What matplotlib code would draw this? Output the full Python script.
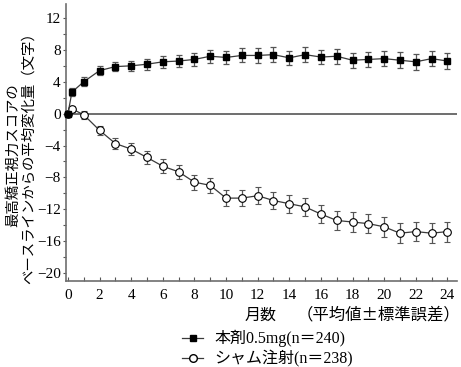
import numpy as np
import matplotlib
matplotlib.use("Agg")
import matplotlib.pyplot as plt
from matplotlib.lines import Line2D

plt.rcParams['font.family'] = ['Liberation Serif', 'Noto Sans CJK JP']

# months (0.25 = week 1)
months = [0, 0.25] + list(range(1, 25))

drug_mean = [0.0, 2.7, 4.0, 5.4, 5.9, 6.0, 6.2, 6.5, 6.6, 6.8, 7.2, 7.05,
             7.3, 7.3, 7.4, 7.0, 7.4, 7.1, 7.2, 6.7, 6.8, 6.9, 6.7, 6.5, 6.9, 6.6]
drug_se = [0.0, 0.5, 0.55, 0.58, 0.6, 0.65, 0.7, 0.72, 0.75, 0.78, 0.8, 0.82,
           0.88, 0.9, 0.9, 0.9, 0.92, 0.92, 0.93, 0.95, 0.95, 0.96, 0.97, 0.98, 0.98, 1.0]

sham_mean = [0.0, 0.6, -0.15, -2.1, -3.75, -4.45, -5.5, -6.6, -7.3, -8.6, -9.0, -10.6,
             -10.6, -10.3, -10.9, -11.3, -11.7, -12.6, -13.4, -13.6, -13.8, -14.2,
             -15.0, -14.8, -15.0, -14.8]
sham_se = [0.0, 0.4, 0.5, 0.6, 0.73, 0.78, 0.82, 0.85, 0.88, 0.92, 0.95, 1.0,
           1.05, 1.1, 1.1, 1.12, 1.15, 1.15, 1.18, 1.2, 1.2, 1.22, 1.22, 1.24, 1.25, 1.25]

drug_label = "本剤0.5mg(n＝240)"
sham_label = "シャム注射(n＝238)"

fig = plt.figure(figsize=(4.61, 3.67), dpi=100)
ax = fig.add_axes([0.1440, 0.2343, 0.8470, 0.7547])

ax.axhline(0, color="#6e6e6e", lw=1.4, zorder=1)

ax.errorbar(months, sham_mean, yerr=sham_se, color="#3a3a3a", lw=0.9,
            ecolor="#555555", elinewidth=0.9, capsize=2.2, capthick=0.9,
            marker="o", ms=5.5, mfc="white", mec="black", mew=0.8,
            zorder=3, clip_on=False)
ax.errorbar(months, drug_mean, yerr=drug_se, color="#3a3a3a", lw=0.9,
            ecolor="#555555", elinewidth=0.9, capsize=2.2, capthick=0.9,
            marker="s", ms=5, mfc="black", mec="black",
            zorder=4, clip_on=False)

ax.set_xlim(-0.1, 24.6)
ax.set_ylim(-21, 13.75)
ax.set_xticks(range(0, 25, 2))
ax.set_xticks(range(0, 25), minor=True)
ax.set_yticks(range(-20, 13, 4))
ax.set_yticks(range(-20, 13, 2), minor=True)
ax.tick_params(axis="x", which="both", direction="in", length=3, width=0.8,
               color="#555555", labelsize=11, pad=6)
ax.tick_params(axis="y", which="both", direction="out", length=2.5, width=0.8,
               color="#555555", labelsize=11, pad=1.5)

for s in ["top", "right"]:
    ax.spines[s].set_visible(False)
for s in ["left", "bottom"]:
    ax.spines[s].set_color("#6e6e6e")
    ax.spines[s].set_linewidth(1.2)

ax.set_ylabel("最高矯正視力スコアの\nベースラインからの平均変化量（文字）",
              fontsize=10.4, linespacing=1.2, family=["Noto Sans CJK JP"])
ax.yaxis.set_label_coords(-0.078, 0.455)

fig.text(0.566, 0.142, "月数", ha="center", va="center", fontsize=11.5,
         family=["Noto Sans CJK JP"])
fig.text(0.999, 0.142, "（平均値±標準誤差）", ha="right", va="center", fontsize=11.8,
         family=["Noto Sans CJK JP"])

h1 = Line2D([], [], color="#3a3a3a", lw=0.9, marker="s", ms=5, mfc="black", mec="black")
h2 = Line2D([], [], color="#3a3a3a", lw=0.9, marker="o", ms=5.5, mfc="white", mec="black")
fig.legend([h1, h2], [drug_label, sham_label], loc="center left",
           bbox_to_anchor=(0.378, 0.05), frameon=False, fontsize=11.5,
           handlelength=1.3, handletextpad=0.7, labelspacing=0.2, borderpad=0)

fig.savefig("out.png", dpi=100)
